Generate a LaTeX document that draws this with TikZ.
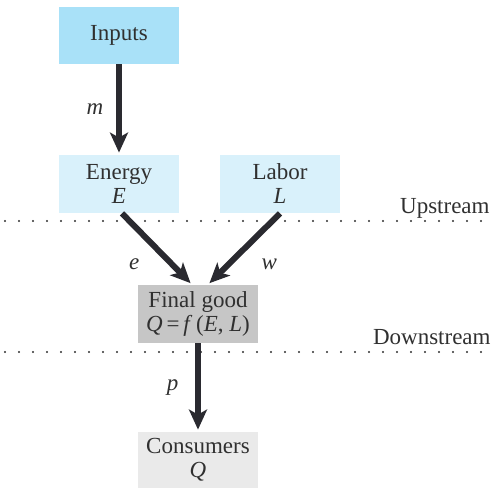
\documentclass[tikz,border=0pt]{standalone}
\usepackage{fontspec}
\setmainfont{Liberation Serif}
\usepackage{tikz}
\usetikzlibrary{arrows.meta,positioning,calc}
\definecolor{inputblue}{HTML}{A9E1F8}
\definecolor{factorblue}{HTML}{D9F1FB}
\definecolor{goodgray}{HTML}{C6C6C6}
\definecolor{consumergray}{HTML}{EAEAEA}
\definecolor{arrowdark}{HTML}{2A2A30}
\definecolor{textdark}{HTML}{303030}
\tikzset{%
  market box/.style={%
    minimum width=60pt,
    minimum height=29pt,
    inner sep=0pt,
    align=center,
    text=textdark
  }
}
\tikzset{%
  flow/.style={%
    line width=3pt,
    color=arrowdark,
    shorten >=1pt,
    -{Stealth[length=10pt,width=9pt,inset=2.5pt]}
  }
}
\tikzset{%
  stream line/.style={%
    line width=1.2pt,
    dash pattern=on 0pt off 7pt,
    line cap=round,
    color=textdark
  }
}
\begin{document}
\begin{tikzpicture}[x=0.5pt,y=-0.5pt,font=\fontsize{11.5}{12}\selectfont]
  \useasboundingbox (0,0) rectangle (495,488);
  \node [market box,fill=inputblue,minimum height=28.5pt] (inputs) at (119,35.5) {Inputs};
  \node [market box,fill=factorblue] (energy) at (119,184) {Energy\\ \textit{E}};
  \node [market box,fill=factorblue] (labor) at (280,184) {Labor\\ \textit{L}};
  \node [market box,fill=goodgray] (final) at (198,314) {Final good\\ \textit{Q}\,=\,\textit{f}\,(\textit{E}, \textit{L})};
  \node [market box,fill=consumergray,minimum height=28pt] (consumers) at (198,460) {Consumers\\ \textit{Q}};
  \coordinate (up west) at (5,221);
  \coordinate (up east) at (495,221);
  \coordinate (down west) at (5,352);
  \coordinate (down east) at (495,352);
  \draw [stream line] (up west) -- (up east);
  \draw [stream line] (down west) -- (down east);
  \node [anchor=east,inner sep=0pt,text=textdark] (upstream) at (490,208) {Upstream};
  \node [anchor=east,inner sep=0pt,text=textdark] (downstream) at (491,337) {Downstream};
  \draw [flow] (inputs) -- node [left=3pt,text=textdark] (mlab) {\textit{m}} (energy);
  \draw [flow] ([xshift=1.5pt]energy.south) -- node [below left=0pt and 4pt,text=textdark] (elab) {\textit{e}} ([xshift=-3pt]final.north);
  \draw [flow] (labor.south) -- node [below right=0pt and 4pt,text=textdark] (wlab) {\textit{w}} ([xshift=5pt]final.north);
  \draw [flow] (final) -- node [left=5pt,text=textdark] (plab) {\textit{p}} (consumers);
\end{tikzpicture}
\end{document}
